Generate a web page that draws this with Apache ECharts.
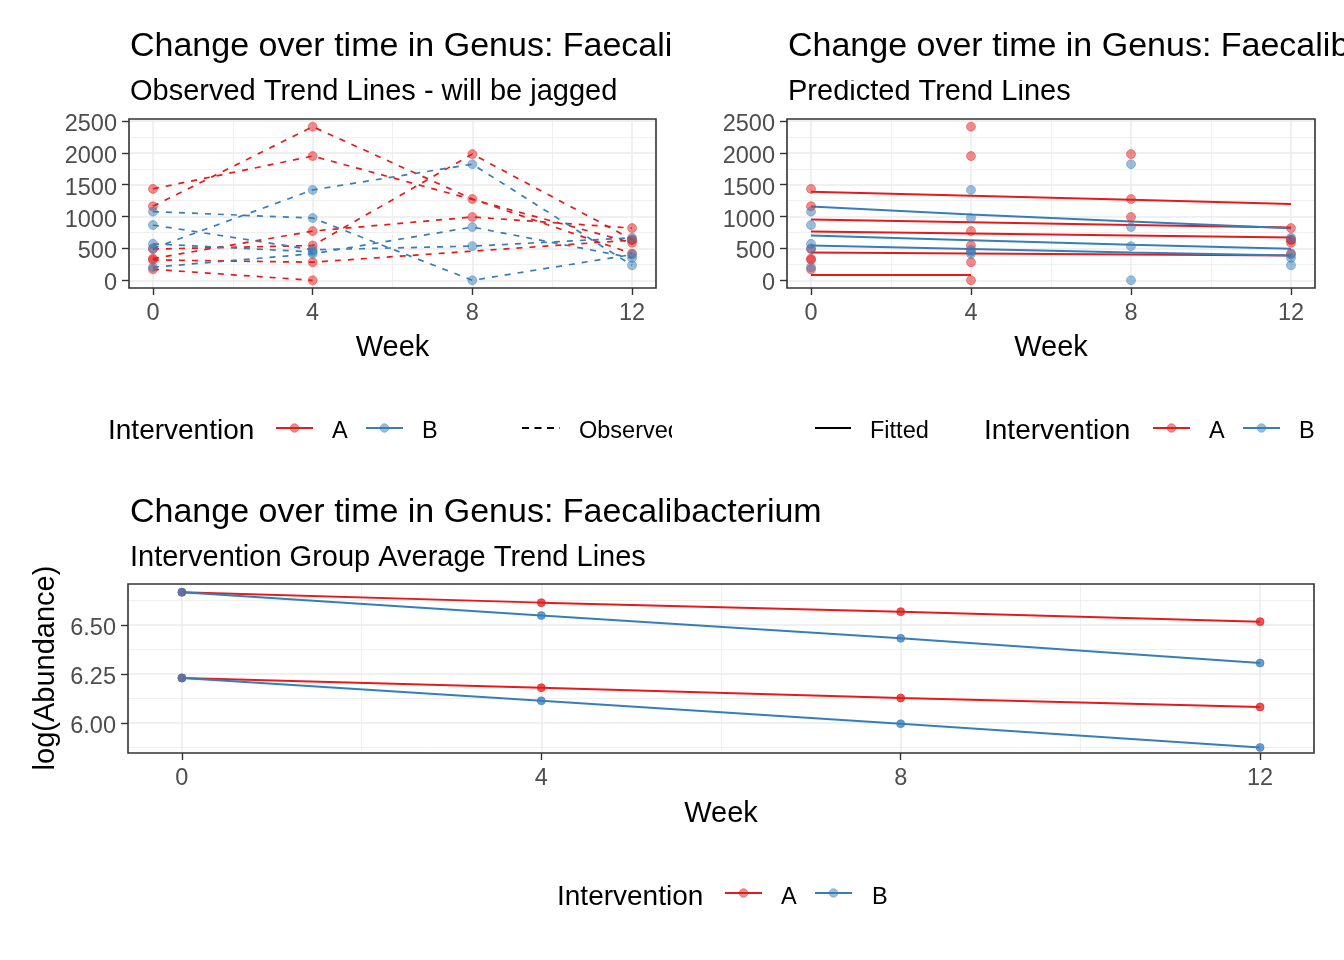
<!DOCTYPE html>
<html><head><meta charset="utf-8">
<script src="https://cdn.jsdelivr.net/npm/echarts@6/dist/echarts.min.js"></script>
<style>html,body{margin:0;padding:0;background:#fff}#c{width:1344px;height:960px}</style>
</head><body><div id="c"></div>
<script>
// ---------------- data ----------------
const weeks = [0, 4, 8, 12];
// observed abundance per subject (null = not observed)
const obsA1 = [1434, 1949, null, 588];
const obsA2 = [1161, 2410, 1276, 420];
const obsA3 = [490, 546, 1980, 641];
const obsA4 = [341, 772, 993, 819];
const obsA5 = [320, 284, null, 630];
const obsA6 = [173, 0, null, null];
const obsB1 = [1077, 977, 0, 404];
const obsB2 = [500, 1418, 1822, 236];
const obsB3 = [867, 479, 536, 667];
const obsB4 = [205, 417, 835, 352];
const obsB5 = [572, 446, null, null];
// predicted (fitted) trend lines
const fitA1 = [1391, 1325, 1262, 1198];
const fitA2 = [953, 910, 868, 828];
const fitA3 = [766, 735, 703, 672];
const fitA4 = [437, 422, 406, 391];
const fitA6 = [85, 83, null, null];
const fitB1 = [1156, 1032, 921, 818];
const fitB2 = [703, 627, 557, 495];
const fitB3 = [547, 490, 438, 391];
// group average trend lines, log(Abundance)
const avgUpperA = [6.667, 6.614, 6.568, 6.517];
const avgUpperB = [6.667, 6.548, 6.432, 6.306];
const avgLowerA = [6.230, 6.180, 6.128, 6.082];
const avgLowerB = [6.230, 6.113, 5.996, 5.875];
// tick values
const weekTicks = [0, 4, 8, 12];
const weekMinor = [2, 6, 10];
const abundTicks = [0, 500, 1000, 1500, 2000, 2500];
const abundMinor = [250, 750, 1250, 1750, 2250];
const logTicks = [6.00, 6.25, 6.50];
const logMinor = [5.875, 6.125, 6.375, 6.625];

// ---------------- style/layout ----------------
const RED = '#E41A1C', BLUE = '#377EB8';
const FONT = '"Liberation Sans", Arial, Helvetica, sans-serif';
const grids = [
  {left: 129, top: 119, width: 527, height: 169},
  {left: 787, top: 119, width: 528, height: 169},
  {left: 128, top: 584, width: 1186, height: 169}
];
const X_RANGE = [-0.6, 12.6];
const Y_TOP = [-120.5, 2530.5];
const Y_BOT = [5.847, 6.709];

function minorAxis(gi, range, ticks, pos) {
  return {type: 'value', gridIndex: gi, min: range[0], max: range[1], position: pos,
    axisLine: {show: false, onZero: false}, axisTick: {show: false, customValues: ticks},
    axisLabel: {show: false, customValues: ticks},
    splitLine: {show: true, lineStyle: {color: '#EBEBEB', width: 0.8}}};
}
function majorAxis(gi, range, ticks, pos, fmt, isX) {
  const lab = {show: true, customValues: ticks, margin: isX ? 14 : 12, color: '#4D4D4D',
    fontSize: 23.5, fontFamily: FONT, formatter: fmt};
  if (!isX) { lab.verticalAlign = 'top'; lab.lineHeight = 7; }
  return {type: 'value', gridIndex: gi, min: range[0], max: range[1], position: pos,
    axisLine: {show: false, onZero: false},
    axisTick: {show: true, length: 7, customValues: ticks, lineStyle: {color: '#333333', width: 1.4}},
    axisLabel: lab,
    splitLine: {show: true, lineStyle: {color: '#EBEBEB', width: 1.5}}};
}
const xAxes = [], yAxes = [];
grids.forEach((g, gi) => {
  xAxes.push(minorAxis(gi, X_RANGE, weekMinor, 'top'));
  xAxes.push(majorAxis(gi, X_RANGE, weekTicks, 'bottom', v => String(v), true));
  const yr = gi < 2 ? Y_TOP : Y_BOT;
  yAxes.push(minorAxis(gi, yr, gi < 2 ? abundMinor : logMinor, 'right'));
  yAxes.push(majorAxis(gi, yr, gi < 2 ? abundTicks : logTicks, 'left',
    gi < 2 ? (v => String(v)) : (v => v.toFixed(2)), false));
});

function pts(vals) {
  return weeks.map((w, i) => [w, vals[i]]).filter(p => p[1] !== null);
}
const series = [];
function lineS(gi, vals, color, dashed, width) {
  series.push({type: 'line', xAxisIndex: gi * 2 + 1, yAxisIndex: gi * 2 + 1,
    data: pts(vals), showSymbol: false, symbol: 'none', silent: true, animation: false,
    lineStyle: {color: color, width: width, type: dashed ? [6, 7] : 'solid'}, z: 3});
}
function pointS(gi, vals, color, size, op) {
  series.push({type: 'scatter', xAxisIndex: gi * 2 + 1, yAxisIndex: gi * 2 + 1,
    data: pts(vals), symbol: 'circle', symbolSize: size, silent: true, animation: false,
    itemStyle: {color: color, opacity: op, borderColor: color, borderWidth: 0.8}, z: 4});
}
const obsA = [obsA1, obsA2, obsA3, obsA4, obsA5, obsA6];
const obsB = [obsB1, obsB2, obsB3, obsB4, obsB5];
// panel 1: observed (dashed) lines, then points
obsA.forEach(v => lineS(0, v, RED, true, 1.7));
obsB.forEach(v => lineS(0, v, BLUE, true, 1.7));
obsA.forEach(v => pointS(0, v, RED, 9, 0.5));
obsB.forEach(v => pointS(0, v, BLUE, 9, 0.5));
// panel 2: points then fitted lines
obsA.forEach(v => pointS(1, v, RED, 9, 0.5));
obsB.forEach(v => pointS(1, v, BLUE, 9, 0.5));
[fitA1, fitA2, fitA3, fitA4, fitA6].forEach(v => lineS(1, v, RED, false, 2));
[fitB1, fitB2, fitB3].forEach(v => lineS(1, v, BLUE, false, 2));
// panel 3: averages
[avgUpperA, avgLowerA].forEach(v => lineS(2, v, RED, false, 2));
[avgUpperB, avgLowerB].forEach(v => lineS(2, v, BLUE, false, 2));
[avgUpperA, avgLowerA].forEach(v => pointS(2, v, RED, 8, 0.75));
[avgUpperB, avgLowerB].forEach(v => pointS(2, v, BLUE, 8, 0.75));

// ---------------- texts & legends ----------------
const DY = 2.5; // baseline correction
function txt(x, y, text, size, opts) {
  opts = opts || {};
  return {type: 'text', x: x + (opts.rot ? DY : 0), y: y + (opts.rot ? 0 : DY), rotation: opts.rot || 0,
    z: opts.z || 100, silent: true,
    style: {text: text, font: size + 'px ' + FONT, fill: opts.fill || '#000000',
      align: opts.align || 'left', verticalAlign: 'middle',
      textAlign: opts.align || 'left', textVerticalAlign: 'middle'}};
}
function hline(x1, x2, y, color, dash) {
  return {type: 'line', z: 100, silent: true, shape: {x1: x1, y1: y, x2: x2, y2: y},
    style: {stroke: color, lineWidth: 2, lineDash: dash || null}};
}
function dot(x, y, color) {
  return {type: 'circle', z: 101, silent: true, shape: {cx: x, cy: y, r: 4.3},
    style: {fill: color, stroke: color, lineWidth: 0.8, opacity: 0.5}};
}
const T = 'Change over time in Genus: Faecalibacterium';
const graphics = [
  txt(130, 44, T, 34, {z: 100}),
  {type: 'rect', z: 110, silent: true, shape: {x: 672, y: 10, width: 672, height: 70}, style: {fill: '#ffffff'}},
  txt(788, 44, T, 34, {z: 120}),
  txt(130, 89, 'Observed Trend Lines - will be jagged', 29),
  txt(788, 89, 'Predicted Trend Lines', 29),
  txt(130, 510, T, 34),
  txt(130, 555, 'Intervention Group Average Trend Lines', 29),
  txt(392.5, 345, 'Week', 29, {align: 'center'}),
  txt(1051, 345, 'Week', 29, {align: 'center'}),
  txt(721, 811, 'Week', 29, {align: 'center'}),
  txt(43, 668, 'log(Abundance)', 29, {align: 'center', rot: Math.PI / 2}),
  // legend top-left
  txt(108, 429, 'Intervention', 28),
  hline(276, 313, 428, RED), dot(294.5, 428, RED), txt(332, 429, 'A', 23.5),
  hline(366, 403, 428, BLUE), dot(384.5, 428, BLUE), txt(422, 429, 'B', 23.5),
  hline(522, 560, 428, '#000000', [7, 5.5]), txt(579, 429, 'Observed', 23.5, {z: 100}),
  {type: 'rect', z: 110, silent: true, shape: {x: 672, y: 410, width: 130, height: 40}, style: {fill: '#ffffff'}},
  // legend top-right
  hline(815, 851, 428, '#000000'), txt(870, 429, 'Fitted', 23.5),
  txt(984, 429, 'Intervention', 28),
  hline(1153, 1190, 428, RED), dot(1171.5, 428, RED), txt(1209, 429, 'A', 23.5),
  hline(1243, 1280, 428, BLUE), dot(1261.5, 428, BLUE), txt(1299, 429, 'B', 23.5),
  // legend bottom
  txt(557, 895, 'Intervention', 28),
  hline(725, 762, 893, RED), dot(743.5, 893, RED), txt(781, 895, 'A', 23.5),
  hline(815, 852, 893, BLUE), dot(833.5, 893, BLUE), txt(872, 895, 'B', 23.5)
];
// panel borders on top
grids.forEach(g => graphics.push({type: 'rect', z: 90, silent: true,
  shape: {x: g.left, y: g.top, width: g.width, height: g.height},
  style: {fill: null, stroke: '#333333', lineWidth: 1.6}}));

const chart = echarts.init(document.getElementById('c'), null, {renderer: 'canvas'});
chart.setOption({
  animation: false,
  backgroundColor: '#ffffff',
  grid: grids.map(g => Object.assign({show: false, outerBoundsMode: 'none', containLabel: false}, g)),
  xAxis: xAxes,
  yAxis: yAxes,
  series: series,
  graphic: {elements: graphics}
});
</script></body></html>
